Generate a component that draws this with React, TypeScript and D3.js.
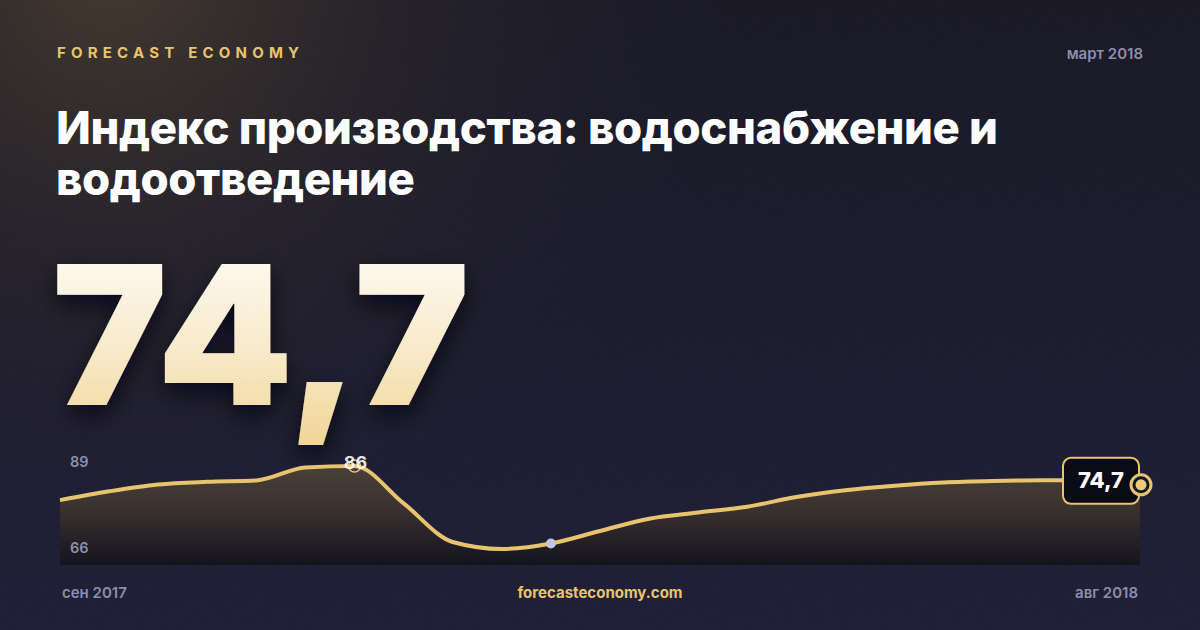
import React from 'react';
import * as d3 from 'd3';

// semi-monthly readings, Sep 2017 .. Aug 2018
const seriesValues = [65.5, 70.8, 74.9, 76.5, 77.3, 85.1, 86, 63.6, 40.4, 36.2, 39.5, 47.0, 54.4, 58.1, 61.6, 67.4, 71.5, 74.2, 76.1, 77.0, 77.4, 77.3, 74.7];
const xLabels = ['сен 2017', 'авг 2018'];
const yTickLabels = ['89', '66'];
const peakIndex = 6;
const peakLabel = '86';
const refIndex = 10;
const lastLabel = '74,7';

const W = 1200;
const H = 630;
const GOLD = '#e8c46f';
const MUTED = '#8d8eab';
const FONT = 'Inter, "Noto Sans", sans-serif';

const App: React.FC = () => {
    const plot = { left: 60, right: 1140, top: 461, bottom: 565 };

    const xScale = d3.scaleLinear()
        .domain([0, seriesValues.length - 1])
        .range([plot.left, plot.right]);

    const yScale = d3.scaleLinear()
        .domain([35, 89])
        .range([551, plot.top]);

    const line = d3.line<number>()
        .x((_, i) => xScale(i))
        .y(d => yScale(d))
        .curve(d3.curveMonotoneX);

    const area = d3.area<number>()
        .x((_, i) => xScale(i))
        .y0(plot.bottom)
        .y1(d => yScale(d))
        .curve(d3.curveMonotoneX);

    const last = seriesValues.length - 1;
    const lx = xScale(last);
    const ly = yScale(seriesValues[last]);
    const px = xScale(peakIndex);
    const py = yScale(seriesValues[peakIndex]);

    return (
        <div style={{ position: 'fixed', left: 0, top: 0, width: W, height: H }}>
            <svg width={W} height={H} viewBox={`0 0 ${W} ${H}`} style={{ display: 'block' }}>
                <defs>
                    <linearGradient id="bgBase" x1="0" y1="0" x2="0" y2="1">
                        <stop offset="0%" stopColor="#151421" />
                        <stop offset="100%" stopColor="#1a1a33" />
                    </linearGradient>
                    <radialGradient id="bgGlow" cx="110" cy="-30" r="620" gradientUnits="userSpaceOnUse">
                        <stop offset="0%" stopColor="#40352a" stopOpacity={1} />
                        <stop offset="45%" stopColor="#2a2426" stopOpacity={0.6} />
                        <stop offset="100%" stopColor="#1a1a2e" stopOpacity={0} />
                    </radialGradient>
                    <linearGradient id="numGrad" x1="0" y1="0" x2="0" y2="1">
                        <stop offset="0%" stopColor="#ffffff" />
                        <stop offset="55%" stopColor="#f8ebcc" />
                        <stop offset="100%" stopColor="#f0d491" />
                    </linearGradient>
                    <linearGradient id="areaGrad" x1="0" y1={plot.top} x2="0" y2={plot.bottom} gradientUnits="userSpaceOnUse">
                        <stop offset="0%" stopColor="#4d4139" />
                        <stop offset="45%" stopColor="#3a322f" />
                        <stop offset="100%" stopColor="#14131e" />
                    </linearGradient>
                    <filter id="numShadow" x="-20%" y="-20%" width="140%" height="150%">
                        <feDropShadow dx="0" dy="10" stdDeviation="12" floodColor="#05050c" floodOpacity="0.75" />
                    </filter>
                    <filter id="grain">
                        <feTurbulence type="fractalNoise" baseFrequency="0.9" numOctaves="2" seed="3" />
                        <feColorMatrix type="matrix" values="0 0 0 0 1  0 0 0 0 1  0 0 0 0 1  0 0 0 0.05 0" />
                    </filter>
                </defs>

                {/* background */}
                <rect width={W} height={H} fill="url(#bgBase)" />
                <rect width={W} height={H} fill="url(#bgGlow)" />
                <rect width={W} height={H} filter="url(#grain)" />

                {/* header */}
                <text x={57} y={58} fontFamily={FONT} fontSize={15} fontWeight={700} fill={GOLD} letterSpacing="5.2px">
                    FORECAST ECONOMY
                </text>
                <text x={1143} y={59} fontFamily={FONT} fontSize={15} fontWeight={600} fill={MUTED} textAnchor="end">
                    март 2018
                </text>
                <text x={56} y={144} fontFamily={FONT} fontSize={45.5} fontWeight={800} fill="#ffffff" letterSpacing="-0.4px">
                    Индекс производства: водоснабжение и
                </text>
                <text x={56} y={195} fontFamily={FONT} fontSize={45.5} fontWeight={800} fill="#ffffff" letterSpacing="-0.4px">
                    водоотведение
                </text>

                {/* headline number */}
                <text x={52} y={405} fontFamily={FONT} fontSize={194} fontWeight={900} fill="url(#numGrad)"
                    letterSpacing="1px" filter="url(#numShadow)">
                    {lastLabel}
                </text>

                {/* sparkline */}
                <path d={area(seriesValues) || ''} fill="url(#areaGrad)" />
                <path d={line(seriesValues) || ''} fill="none" stroke={GOLD} strokeWidth={4} strokeLinejoin="round" />

                {yTickLabels.map((t, i) => (
                    <text key={t} x={70} y={i === 0 ? plot.top + 6 : plot.bottom - 12}
                        fontFamily={FONT} fontSize={14.5} fontWeight={600} fill={MUTED}>
                        {t}
                    </text>
                ))}

                {/* peak marker */}
                <circle cx={px} cy={py} r={6} fill="none" stroke={GOLD} strokeWidth={1.5} />
                <text x={px + 1} y={py + 3} textAnchor="middle" fontFamily={FONT} fontSize={18} fontWeight={700}
                    fill="#ffffff" fillOpacity={0.9}>
                    {peakLabel}
                </text>

                {/* reference point */}
                <circle cx={xScale(refIndex)} cy={yScale(seriesValues[refIndex])} r={5} fill="#c3c6de" />

                {/* last value badge */}
                <rect x={lx - 77} y={ly - 27} width={76} height={46} rx={8} fill="#0b0b17" stroke={GOLD} strokeWidth={2} />
                <text x={lx - 39} y={ly + 3} textAnchor="middle" fontFamily={FONT} fontSize={22} fontWeight={800} fill="#ffffff">
                    {lastLabel}
                </text>
                <circle cx={lx + 1} cy={ly} r={10} fill="#16162a" stroke={GOLD} strokeWidth={3} />
                <circle cx={lx + 1} cy={ly} r={5.5} fill="#ecca7c" />

                {/* footer */}
                <text x={62} y={598} fontFamily={FONT} fontSize={15} fontWeight={600} fill={MUTED}>{xLabels[0]}</text>
                <text x={1138} y={598} textAnchor="end" fontFamily={FONT} fontSize={15} fontWeight={600} fill={MUTED}>{xLabels[1]}</text>
                <text x={600} y={598} textAnchor="middle" fontFamily={FONT} fontSize={15} fontWeight={700} fill={GOLD}>
                    forecasteconomy.com
                </text>
            </svg>
        </div>
    );
};

export default App;
